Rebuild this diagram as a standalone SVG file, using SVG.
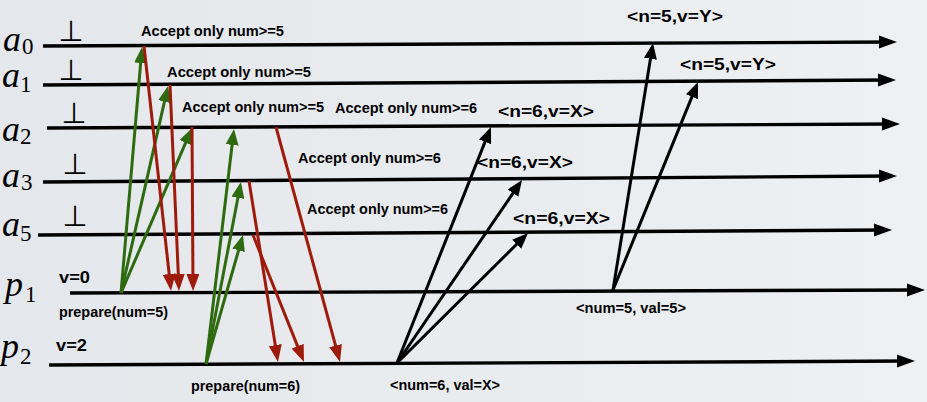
<svg xmlns="http://www.w3.org/2000/svg" width="927" height="402" viewBox="0 0 927 402">
<defs>
<linearGradient id="bg" x1="0" y1="0" x2="1" y2="0">
<stop offset="0" stop-color="#e4e7eb"/>
<stop offset="1" stop-color="#eef0f2"/>
</linearGradient>
<marker id="hT" markerUnits="userSpaceOnUse" markerWidth="18" markerHeight="14" refX="13" refY="7" orient="auto" viewBox="0 0 18 14"><path d="M0,0.5 L18,7 L0,13.5 z" fill="#000"/></marker>
<marker id="hG" markerUnits="userSpaceOnUse" markerWidth="16" markerHeight="13" refX="11" refY="6.5" orient="auto" viewBox="0 0 16 13"><path d="M0,0 L16,6.5 L0,13 z" fill="#2d6a10"/></marker>
<marker id="hR" markerUnits="userSpaceOnUse" markerWidth="17" markerHeight="13" refX="12" refY="6.5" orient="auto" viewBox="0 0 17 13"><path d="M0,0 L17,6.5 L0,13 z" fill="#9e1b0c"/></marker>
<marker id="hB" markerUnits="userSpaceOnUse" markerWidth="16" markerHeight="13" refX="11" refY="6.5" orient="auto" viewBox="0 0 16 13"><path d="M0,0 L16,6.5 L0,13 z" fill="#000"/></marker>
</defs>
<style>
.tl{stroke:#000;stroke-width:3.4;fill:none;marker-end:url(#hT)}
.g{stroke:#2d6a10;stroke-width:3;fill:none;marker-end:url(#hG)}
.r{stroke:#9e1b0c;stroke-width:3;fill:none;marker-end:url(#hR)}
.b{stroke:#000;stroke-width:3;fill:none;marker-end:url(#hB)}
.m{font-family:"Liberation Serif","Times New Roman",serif;font-style:italic;font-size:36px;fill:#000}
.s{font-family:"Liberation Serif","Times New Roman",serif;font-size:23px;fill:#000}
.bot{font-family:"DejaVu Sans",sans-serif;font-size:29px;fill:#000;text-anchor:middle}
.t{font-family:"Liberation Sans",Arial,sans-serif;font-weight:bold;font-size:14px;fill:#000}
.n{font-family:"Liberation Sans",Arial,sans-serif;font-weight:bold;font-size:17px;fill:#000}
</style>
<rect width="927" height="402" fill="url(#bg)"/>

<g id="a0"><text class="m" x="3" y="51">a</text><text class="s" x="22" y="54">0</text><text class="bot" x="71" y="41">⊥</text></g>
<g id="a1"><text class="m" x="2" y="87">a</text><text class="s" x="20" y="92">1</text><text class="bot" x="71" y="80">⊥</text></g>
<g id="a2"><text class="m" x="2" y="141">a</text><text class="s" x="20" y="144">2</text><text class="bot" x="74" y="123">⊥</text></g>
<g id="a3"><text class="m" x="2" y="187">a</text><text class="s" x="21" y="190">3</text><text class="bot" x="75" y="174">⊥</text></g>
<g id="a5"><text class="m" x="2" y="236">a</text><text class="s" x="20" y="241">5</text><text class="bot" x="75" y="226">⊥</text></g>
<g id="p1"><text class="m" x="5" y="296">p</text><text class="s" x="25" y="302">1</text><text class="n" x="59" y="283" textLength="31" lengthAdjust="spacingAndGlyphs">v=0</text><text class="t" x="59" y="317" textLength="109" lengthAdjust="spacingAndGlyphs">prepare(num=5)</text></g>
<g id="p2"><text class="m" x="1" y="358">p</text><text class="s" x="20" y="364">2</text><text class="n" x="56" y="351" textLength="31" lengthAdjust="spacingAndGlyphs">v=2</text><text class="t" x="191" y="391" textLength="109" lengthAdjust="spacingAndGlyphs">prepare(num=6)</text></g>

<g id="labels">
<text class="t" x="141" y="36" textLength="143" lengthAdjust="spacingAndGlyphs">Accept only num&gt;=5</text>
<text class="t" x="167" y="77" textLength="144" lengthAdjust="spacingAndGlyphs">Accept only num&gt;=5</text>
<text class="t" x="182" y="112" textLength="142" lengthAdjust="spacingAndGlyphs">Accept only num&gt;=5</text>
<text class="t" x="335" y="113" textLength="142" lengthAdjust="spacingAndGlyphs">Accept only num&gt;=6</text>
<text class="t" x="298" y="163" textLength="143" lengthAdjust="spacingAndGlyphs">Accept only num&gt;=6</text>
<text class="t" x="307" y="214" textLength="141" lengthAdjust="spacingAndGlyphs">Accept only num&gt;=6</text>
<text class="n" x="498" y="117" textLength="96" lengthAdjust="spacingAndGlyphs">&lt;n=6,v=X&gt;</text>
<text class="n" x="477" y="168" textLength="96" lengthAdjust="spacingAndGlyphs">&lt;n=6,v=X&gt;</text>
<text class="n" x="513" y="224" textLength="97" lengthAdjust="spacingAndGlyphs">&lt;n=6,v=X&gt;</text>
<text class="n" x="627" y="22" textLength="96" lengthAdjust="spacingAndGlyphs">&lt;n=5,v=Y&gt;</text>
<text class="n" x="680" y="70" textLength="96" lengthAdjust="spacingAndGlyphs">&lt;n=5,v=Y&gt;</text>
<text class="t" x="576" y="313" textLength="110" lengthAdjust="spacingAndGlyphs">&lt;num=5, val=5&gt;</text>
<text class="t" x="390" y="390" textLength="110" lengthAdjust="spacingAndGlyphs">&lt;num=6, val=X&gt;</text>
</g>

<g id="connectors">
<line class="tl" x1="43" y1="46" x2="892" y2="42"/>
<line class="tl" x1="43" y1="85" x2="891" y2="80"/>
<line class="tl" x1="47" y1="128" x2="895" y2="124"/>
<line class="tl" x1="43" y1="182" x2="892" y2="176"/>
<line class="tl" x1="38" y1="235" x2="887" y2="230"/>
<line class="tl" x1="70" y1="293" x2="920" y2="290"/>
<line class="tl" x1="49" y1="365" x2="910" y2="361"/>

<line class="g" x1="121" y1="293" x2="141.6" y2="52"/>
<line class="g" x1="121" y1="293" x2="166.9" y2="90.9"/>
<line class="g" x1="121" y1="293" x2="190" y2="132.6"/>
<line class="r" x1="144" y1="46" x2="170.5" y2="286"/>
<line class="r" x1="170" y1="85" x2="178.8" y2="286"/>
<line class="r" x1="192" y1="127" x2="193" y2="286"/>

<line class="g" x1="206" y1="364" x2="233.4" y2="134"/>
<line class="g" x1="206" y1="364" x2="240" y2="187"/>
<line class="g" x1="206" y1="364" x2="241.6" y2="239.8"/>
<line class="r" x1="249" y1="181" x2="277.2" y2="357"/>
<line class="r" x1="253" y1="235" x2="302.1" y2="357.4"/>
<line class="r" x1="276" y1="127" x2="338.7" y2="357.2"/>

<line class="b" x1="397" y1="363" x2="489.1" y2="131.6"/>
<line class="b" x1="397" y1="363" x2="519.2" y2="184.1"/>
<line class="b" x1="397" y1="363" x2="524.5" y2="236.5"/>
<line class="b" x1="613" y1="290" x2="652.2" y2="47.9"/>
<line class="b" x1="613" y1="290" x2="696.1" y2="86.6"/>
</g>
</svg>
